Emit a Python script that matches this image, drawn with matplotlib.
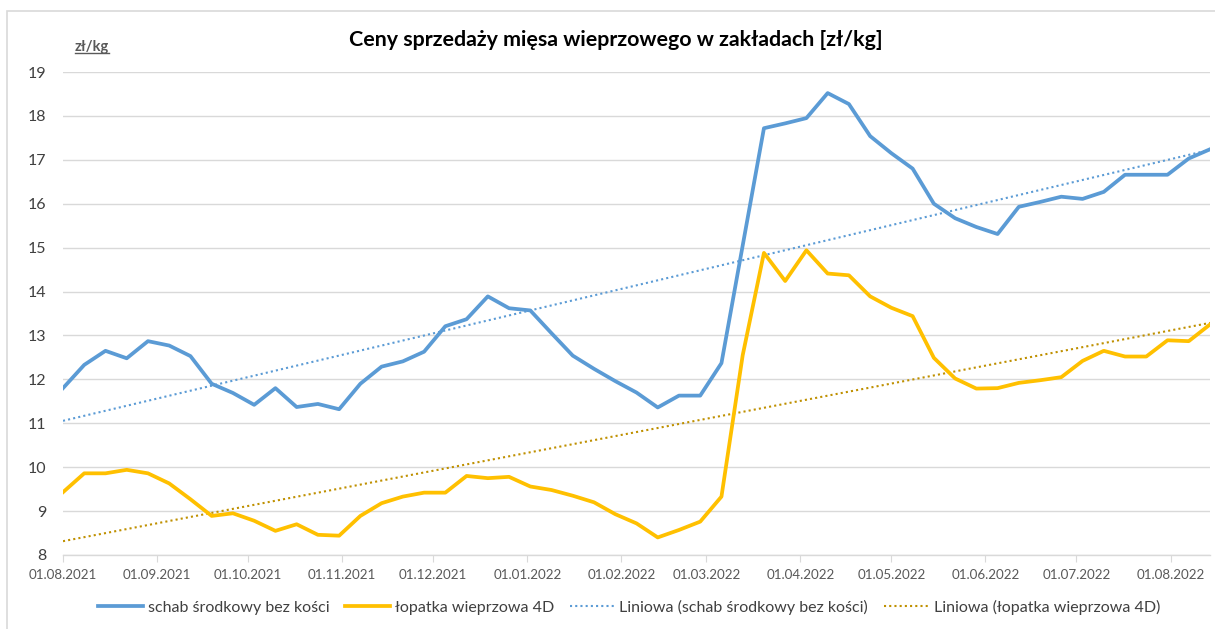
import matplotlib
matplotlib.use('Agg')
import matplotlib.pyplot as plt
import matplotlib.dates as mdates
import numpy as np
import pandas as pd

plt.rcParams['font.family'] = ['Lato', 'DejaVu Sans']

# dane tygodniowe
dates = pd.date_range('2021-08-01', periods=55, freq='7D')

schab = [11.80, 12.33, 12.65, 12.48, 12.87, 12.77, 12.53, 11.90, 11.69, 11.42,
         11.80, 11.37, 11.44, 11.32, 11.90, 12.29, 12.41, 12.63, 13.21, 13.37,
         13.89, 13.62, 13.57, 13.05, 12.54, 12.24, 11.96, 11.70, 11.36, 11.63,
         11.63, 12.37, 15.05, 17.72, 17.83, 17.95, 18.52, 18.27, 17.54, 17.15,
         16.80, 16.00, 15.67, 15.47, 15.31, 15.93, 16.04, 16.16, 16.11, 16.27,
         16.66, 16.66, 16.66, 17.03, 17.24]

lopatka = [9.43, 9.86, 9.86, 9.94, 9.86, 9.63, 9.27, 8.89, 8.95, 8.78,
           8.55, 8.70, 8.46, 8.44, 8.89, 9.18, 9.33, 9.42, 9.42, 9.80,
           9.75, 9.78, 9.56, 9.48, 9.35, 9.20, 8.93, 8.72, 8.40, 8.57,
           8.76, 9.33, 12.55, 14.88, 14.24, 14.94, 14.41, 14.37, 13.89, 13.63,
           13.44, 12.49, 12.02, 11.79, 11.80, 11.92, 11.98, 12.05, 12.42, 12.65,
           12.52, 12.52, 12.89, 12.87, 13.25]

label_schab = 'schab środkowy bez kości'
label_lopatka = 'łopatka wieprzowa 4D'

BLUE = '#5B9BD5'
YELLOW = '#FFC000'
DARK_YELLOW = '#BF9000'
GRAY = '#595959'

fig = plt.figure(figsize=(12.15, 6.29), dpi=100)
ax = fig.add_axes([63 / 1215, 1 - 555 / 629, (1210 - 63) / 1215, (555 - 72) / 629])

# ramka wykresu
fig.patches.append(plt.Rectangle((7 / 1215, -0.1), 1.2, 1 - 11 / 629 + 0.1,
                                 transform=fig.transFigure, fill=False,
                                 edgecolor='#D9D9D9', linewidth=1.2))

ax.plot(dates, schab, color=BLUE, linewidth=2.7, label=label_schab,
        solid_joinstyle='round', zorder=4)
ax.plot(dates, lopatka, color=YELLOW, linewidth=2.7, label=label_lopatka,
        solid_joinstyle='round', zorder=4)

# linie trendu
xnum = mdates.date2num(dates)
for vals, col, name in [(schab, BLUE, label_schab), (lopatka, DARK_YELLOW, label_lopatka)]:
    a, b = np.polyfit(xnum, vals, 1)
    ax.plot(dates, a * xnum + b, color=col, linewidth=1.5, linestyle=(0, (1, 1.5)),
            label='Liniowa (' + name + ')', zorder=3)

ax.set_ylim(8, 19)
ax.set_yticks(range(8, 20))
ax.set_xlim(dates[0], dates[-1])
ax.xaxis.set_major_locator(mdates.MonthLocator(bymonthday=1))
ax.xaxis.set_major_formatter(mdates.DateFormatter('%d.%m.%Y'))

ax.grid(axis='y', color='#D9D9D9', linewidth=1.0)
ax.set_axisbelow(True)
for s in ['top', 'right', 'left']:
    ax.spines[s].set_visible(False)
ax.spines['bottom'].set_color('#D9D9D9')
ax.spines['bottom'].set_linewidth(1.0)
ax.tick_params(axis='y', length=0, labelsize=11.5, labelcolor='#404040', pad=12)
ax.tick_params(axis='x', length=5, color='#D9D9D9', labelsize=9.6, labelcolor=GRAY, pad=5)

fig.text(616 / 1215, 1 - 40 / 629, 'Ceny sprzedaży mięsa wieprzowego w zakładach [zł/kg]',
         ha='center', va='center', fontsize=15.4, fontweight='bold', color='black')

unit = fig.text(75 / 1215, 1 - 47 / 629, 'zł/kg', ha='left', va='center',
                fontsize=10.5, fontweight='bold', color=GRAY)
fig.canvas.draw()
bb = unit.get_window_extent().transformed(fig.transFigure.inverted())
fig.add_artist(plt.Line2D([bb.x0, bb.x1], [bb.y0 + 0.002, bb.y0 + 0.002],
                          transform=fig.transFigure, color=GRAY, linewidth=1))

fig.legend(loc='center', bbox_to_anchor=(629 / 1215, 1 - 607 / 629), ncol=4, frameon=False,
           fontsize=11.5, handlelength=2.8, columnspacing=1.0, handletextpad=0.3,
           labelcolor='#404040')

fig.savefig('out.png', dpi=100)
